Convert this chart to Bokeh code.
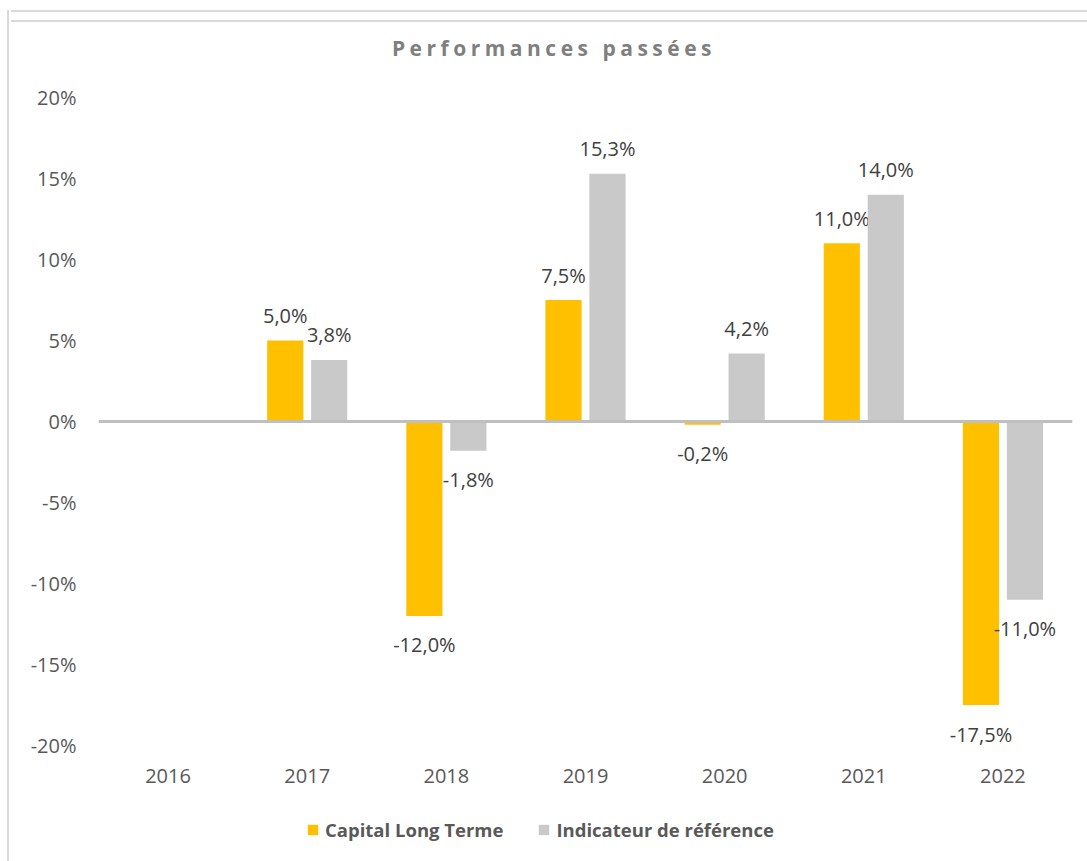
from bokeh.plotting import figure
from bokeh.models import (FactorRange, Range1d, Span, Legend, LegendItem,
                          FixedTicker, ColumnDataSource, Div)
from bokeh.transform import dodge
from bokeh.layouts import column, row
from bokeh.core.properties import value
from bokeh.embed import file_html
from bokeh.resources import INLINE

# ---------------- data ----------------
title = "Performances passées"
years = ["2016", "2017", "2018", "2019", "2020", "2021", "2022"]
capital = [None, 5.0, -12.0, 7.5, -0.2, 11.0, -17.5]
indicateur = [None, 3.8, -1.8, 15.3, 4.2, 14.0, -11.0]
series_names = ["Capital Long Terme", "Indicateur de référence"]
y_ticks = [-20, -15, -10, -5, 0, 5, 10, 15, 20]
y_tick_labels = ["-20%", "-15%", "-10%", "-5%", "0%", "5%", "10%", "15%", "20%"]

colors = ["#FFC000", "#C9C9C9"]
FONT = "Open Sans"
BORDER = "#D9D9D9"

TOTAL_W, TOTAL_H = 1087, 861
GAP = 10                  # space above the top border line
LINE = 2                  # border thickness
HEAD = 68                 # total height above the figure
SIDE = 11
W = TOTAL_W - SIDE
H = TOTAL_H - HEAD
TOP = 29
PLOT_PX = 648             # pixel height of the -20%..20% band
px_per_unit = PLOT_PX / 40.0
frame_px = H - TOP
y_start = 20 - frame_px / px_per_unit

p = figure(x_range=FactorRange(*years), y_range=Range1d(y_start, 20),
           width=W, height=H, output_backend="svg", toolbar_location=None,
           min_border_left=98 - SIDE, min_border_right=15, min_border_top=TOP,
           min_border_bottom=0)
p.outline_line_color = None
p.xgrid.grid_line_color = None
p.ygrid.grid_line_color = None

offsets = [-0.158, 0.158]
renderers = []
for vals, off, col in zip([capital, indicateur], offsets, colors):
    tops = [float("nan") if v is None else v for v in vals]
    src = ColumnDataSource(dict(year=years, top=tops))
    r = p.vbar(x=dodge("year", off, range=p.x_range), top="top", bottom=0,
               width=0.26, source=src, fill_color=col, line_color=None)
    renderers.append(r)
    ly = [y for y, v in zip(years, vals) if v is not None]
    lv = [v for v in vals if v is not None]
    lt = [f"{v:.1f}".replace(".", ",") + "%" for v in lv]
    lo = [-25 if v >= 0 else 29 for v in lv]
    lsrc = ColumnDataSource(dict(year=ly, val=lv, txt=lt, yoff=lo))
    p.text(x=dodge("year", off, range=p.x_range), y="val", text="txt",
           y_offset="yoff", source=lsrc, text_align="center",
           text_baseline="middle", text_font=value(FONT),
           text_font_size="20px", text_color="#404040")

p.add_layout(Span(location=0, dimension="width", line_color="#BFBFBF",
                  line_width=3))

for ax in (p.xaxis[0], p.yaxis[0]):
    ax.axis_line_color = None
    ax.major_tick_line_color = None
    ax.minor_tick_line_color = None
    ax.major_label_text_font = FONT
    ax.major_label_text_font_size = "20px"
    ax.major_label_text_color = "#595959"
p.xaxis.fixed_location = y_ticks[0]
p.xaxis.major_label_standoff = 17
p.yaxis.major_label_standoff = 16
p.yaxis.ticker = FixedTicker(ticks=y_ticks)
p.yaxis.major_label_overrides = {t: l for t, l in zip(y_ticks, y_tick_labels)}

legend = Legend(items=[LegendItem(label=n, renderers=[r])
                       for n, r in zip(series_names, renderers)],
                orientation="horizontal", location=(306 - 98, 19),
                label_text_font=FONT, label_text_font_style="bold",
                label_text_font_size="18.5px", label_text_color="#595959",
                glyph_width=13, glyph_height=13, label_standoff=6,
                spacing=34, border_line_color=None, background_fill_alpha=0,
                padding=0, margin=0)
p.add_layout(legend, "center")

# chart border (top and left), drawn as plain HTML strips
side = Div(text=(f'<div style="width:9px;height:10px;"></div>'
                 f'<div style="width:9px;height:{TOTAL_H - 10}px;'
                 f'border-right:2px solid {BORDER};"></div>'),
           width=SIDE, height=TOTAL_H, margin=0)
gap = Div(text="", width=W, height=GAP, margin=0)
topline = Div(text=(f'<div style="width:{W}px;height:{LINE}px;'
                    f'background-color:{BORDER};"></div>'),
              width=W, height=LINE, margin=0,
              styles={"background-color": BORDER})

head = Div(text=(f'<div style="width:{W}px;height:{HEAD - GAP - LINE}px;'
                 f'box-sizing:border-box;text-align:center;padding-left:10px;'
                 f'padding-top:22px;font-family:\'Open Sans\';font-weight:bold;'
                 f'font-size:21px;line-height:28px;color:#7F7F7F;'
                 f'letter-spacing:4.5px;">{title}</div>'),
           width=W, height=HEAD - GAP - LINE, margin=0)

layout = row(side, column(gap, topline, head, p, spacing=0), spacing=0)

open("out.html", "w").write(file_html(layout, INLINE))
